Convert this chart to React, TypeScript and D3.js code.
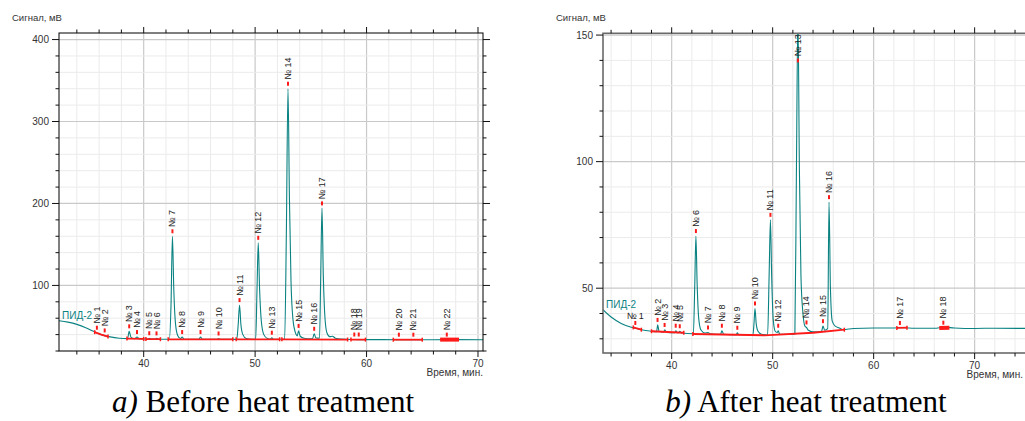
import React from 'react';
import * as d3 from 'd3';

type Pt = [number, number];
type Peak = [number, number, number]; // [№, time (min), top (mV)]

// ---- panel a) before heat treatment ----
const traceA: Pt[] = [
  [32.4, 57], [33.2, 55.2], [34.0, 52.5], [34.8, 48.5], [35.5, 44], [36.2, 40], [37.0, 37.2], [37.8, 35.6],
  [38.55, 35.1], [38.7, 44], [38.85, 37], [39.2, 35], [39.4, 37], [39.6, 34.8],
  [40.4, 34.6], [40.5, 35.6], [40.65, 34.5], [41.05, 34.5], [41.15, 35.4], [41.35, 34.4],
  [42.3, 34.3], [42.45, 75], [42.58, 160], [42.7, 96], [42.85, 54], [43.05, 39], [43.3, 35.2], [43.45, 37], [43.62, 34.4],
  [44.95, 34.3], [45.1, 37], [45.28, 34.3],
  [46.6, 34.2], [46.72, 35.3], [46.86, 34.2],
  [48.35, 34.2], [48.48, 52], [48.6, 76], [48.72, 53], [48.9, 40], [49.2, 35.3], [49.7, 34.3],
  [50.05, 34.3], [50.17, 95], [50.28, 152], [50.4, 96], [50.56, 56], [50.78, 40], [51.1, 35.3], [51.38, 34.6], [51.5, 36.2], [51.65, 34.4],
  [52.65, 34.3], [52.8, 160], [52.95, 340], [53.08, 205], [53.22, 105], [53.4, 58], [53.6, 43], [53.78, 38.5], [53.9, 44.5], [54.05, 38], [54.4, 35.5], [54.9, 34.8],
  [55.15, 35], [55.3, 41], [55.45, 36], [55.78, 35.5], [55.89, 115], [56.0, 194], [56.12, 112], [56.27, 60], [56.45, 42], [56.7, 37.5], [56.95, 38], [57.2, 35.6], [57.7, 34.5],
  [58.6, 34], [60, 33.9], [63, 33.8], [66, 33.8], [68, 33.9], [70.5, 33.8],
];

const peaksA: Peak[] = [
  [1, 35.8, 42.3], [2, 36.5, 39], [3, 38.7, 44], [4, 39.4, 37], [5, 40.5, 35.6], [6, 41.15, 35.4],
  [7, 42.58, 160], [8, 43.45, 37], [9, 45.1, 37], [10, 46.72, 35.3], [11, 48.6, 76], [12, 50.28, 152],
  [13, 51.5, 36.2], [14, 52.95, 340], [15, 53.9, 44.5], [16, 55.3, 41], [17, 56.0, 194], [18, 58.9, 34],
  [19, 59.3, 34], [20, 62.9, 33.8], [21, 64.2, 33.8], [22, 67.2, 33.9],
];

const baseA: Pt[][] = [
  [[35.6, 43], [36.2, 40], [36.8, 37.6]],
  [[38.5, 35.1], [40.0, 34.7]],
  [[40.2, 34.6], [41.5, 34.4]],
  [[42.2, 34.3], [48.0, 34.2]],
  [[48.3, 34.2], [52.2, 34.3]],
  [[52.4, 34.3], [58.3, 34.0]],
  [[58.6, 34.0], [59.9, 33.9]],
  [[62.4, 33.8], [65.0, 33.8]],
];
const fatBaseA: Pt[][] = [[[66.6, 33.9], [68.3, 33.9]]];

const yLabelsA = [100, 200, 300, 400];
const xLabelsA = [40, 50, 60, 70];

// ---- panel b) after heat treatment ----
const traceB: Pt[] = [
  [33.2, 41.5], [34, 38.6], [35, 36.1], [36, 34.6], [36.4, 34.2], [37, 33.6], [38, 33], [38.5, 32.8],
  [38.62, 35.5], [38.75, 33], [39.2, 32.6], [39.32, 33.6], [39.5, 32.5],
  [40.3, 32.4], [40.42, 33.2], [40.55, 32.4], [40.7, 32.4], [40.8, 33], [40.95, 32.3],
  [42.15, 32], [42.28, 50], [42.4, 70.6], [42.52, 52], [42.68, 38], [42.9, 33.5], [43.3, 32.3], [43.6, 32.5], [43.8, 32],
  [44.85, 31.8], [44.97, 33.2], [45.15, 31.8],
  [46.4, 31.6], [46.5, 32.4], [46.65, 31.6],
  [48.05, 31.6], [48.15, 36], [48.25, 42], [48.37, 36], [48.55, 33], [48.9, 31.8],
  [49.5, 31.5], [49.65, 55], [49.78, 77], [49.9, 55], [50.05, 38], [50.25, 33], [50.45, 32.5], [50.55, 33.2], [50.7, 31.8],
  [52.2, 31.8], [52.35, 95], [52.5, 158], [52.65, 96], [52.8, 55], [53.0, 40], [53.2, 35], [53.35, 34.5], [53.5, 33.5], [54.0, 32.8],
  [54.85, 33], [54.98, 35], [55.15, 33.4], [55.45, 34], [55.58, 84], [55.72, 50], [55.9, 37], [56.2, 35], [56.6, 34.3], [57.0, 33.6],
  [58, 34.1], [60, 34.3], [62, 34.3], [63, 34.4], [64, 34.2], [66, 34.2], [67, 34.6], [68, 34.3], [70, 34.1], [72, 34.2], [75.5, 34.1],
];

const peaksB: Peak[] = [
  [1, 36.4, 34.3], [2, 38.6, 35.5], [3, 39.3, 33.5], [4, 40.4, 33.2], [5, 40.8, 33], [6, 42.4, 70.6],
  [7, 43.6, 32.5], [8, 44.97, 33.2], [9, 46.5, 32.4], [10, 48.25, 42], [11, 49.78, 77], [12, 50.55, 33.2],
  [13, 52.5, 138], [14, 53.35, 34.5], [15, 54.98, 35], [16, 55.58, 84], [17, 62.6, 34.3], [18, 66.9, 34.4],
];

const baseB: Pt[][] = [
  [[36.2, 34.5], [37.0, 33.6]],
  [[38.0, 33], [41.2, 32.4]],
  [[42.1, 31.9], [49.2, 31.4], [54.0, 32.4], [57.1, 33.6]],
  [[62.3, 34.3], [63.3, 34.4]],
];
const fatBaseB: Pt[][] = [[[66.5, 34.3], [67.5, 34.4]]];

const yLabelsB = [50, 100, 150];
const xLabelsB = [40, 50, 60, 70];
const flatLabelsB = [1];

const SANS = '"Liberation Sans", Arial, sans-serif';
const TEAL = '#0b8282';
const RED = '#ff1a1a';

interface PanelProps {
  id: string;
  left: number; right: number; top: number; bottom: number;
  tDomain: [number, number]; vDomain: [number, number];
  vMajor: number[]; vStep: number; tMajor: number[];
  trace: Pt[]; peaks: Peak[]; base: Pt[][]; fatBase: Pt[][];
  flatLabels?: number[];
  frame: string; frameWidth: number;
  timeLabelEnd: number;
}

const Panel: React.FC<PanelProps> = (p) => {
  const x = d3.scaleLinear().domain(p.tDomain).range([p.left, p.right]);
  const y = d3.scaleLinear().domain(p.vDomain).range([p.bottom, p.top]);
  const line = d3.line<Pt>().x((d) => x(d[0])).y((d) => y(d[1])).curve(d3.curveMonotoneX);
  const straight = d3.line<Pt>().x((d) => x(d[0])).y((d) => y(d[1]));

  const tMinor = d3.range(Math.ceil(p.tDomain[0] / 2) * 2, p.tDomain[1], 2);
  const vMinor = d3.range(Math.ceil(p.vDomain[0] / p.vStep) * p.vStep, p.vDomain[1], p.vStep);
  const isMajorT = (t: number) => p.tMajor.includes(t);
  const isMajorV = (v: number) => p.vMajor.includes(v);
  const clip = `clip-${p.id}`;
  const start = p.trace[0];

  return (
    <g fontFamily={SANS}>
      <defs>
        <clipPath id={clip}>
          <rect x={p.left} y={p.top} width={p.right - p.left} height={p.bottom - p.top} />
        </clipPath>
      </defs>
      {/* grid */}
      {tMinor.map((t) => (
        <line key={`gx${t}`} x1={x(t)} x2={x(t)} y1={p.top} y2={p.bottom}
          stroke={isMajorT(t) ? '#c9c9c9' : '#ebebeb'} strokeWidth={isMajorT(t) ? 1.2 : 1} />
      ))}
      {vMinor.map((v) => (
        <line key={`gy${v}`} x1={p.left} x2={p.right} y1={y(v)} y2={y(v)}
          stroke={isMajorV(v) ? '#c9c9c9' : '#ebebeb'} strokeWidth={isMajorV(v) ? 1.2 : 1} />
      ))}

      <g clipPath={`url(#${clip})`}>
        <path d={line(p.trace) ?? ''} fill="none" stroke={TEAL} strokeWidth={1.1} />
        {p.base.map((s, i) => (
          <g key={`b${i}`}>
            <path d={straight(s) ?? ''} fill="none" stroke={RED} strokeWidth={1.8} />
            {[s[0], s[s.length - 1]].map((q, j) => (
              <line key={j} x1={x(q[0])} x2={x(q[0])} y1={y(q[1]) - 2} y2={y(q[1]) + 2} stroke={RED} strokeWidth={1.5} />
            ))}
          </g>
        ))}
        {p.fatBase.map((s, i) => (
          <path key={`f${i}`} d={straight(s) ?? ''} fill="none" stroke={RED} strokeWidth={4} />
        ))}
      </g>

      {/* peak markers and labels */}
      {p.peaks.map(([n, t, v]) => {
        const px = x(t);
        const py = Math.max(y(v), p.top + 8);
        const flat = p.flatLabels?.includes(n);
        return (
          <g key={`p${n}`}>
            <line x1={px} x2={px} y1={py - 3} y2={py - 7} stroke={RED} strokeWidth={2} />
            {flat ? (
              <text x={px} y={py - 9} fontSize={9} textAnchor="middle" fill="#222">{`№ ${n}`}</text>
            ) : (
              <text transform={`translate(${px + 3},${py - 9}) rotate(-90)`} fontSize={9} fill="#222">{`№ ${n}`}</text>
            )}
          </g>
        );
      })}

      <text x={p.left + 3} y={y(start[1]) - 2} fontSize={10} fill={TEAL}>ПИД-2</text>

      {/* frame */}
      <rect x={p.left} y={p.top} width={p.right - p.left} height={p.bottom - p.top}
        fill="none" stroke={p.frame} strokeWidth={p.frameWidth} />

      {/* ticks */}
      {tMinor.map((t) => {
        const len = isMajorT(t) ? 6 : 3.5;
        return (
          <g key={`tx${t}`} stroke="#111" strokeWidth={1}>
            <line x1={x(t)} x2={x(t)} y1={p.top} y2={p.top - len} />
            <line x1={x(t)} x2={x(t)} y1={p.bottom} y2={p.bottom + len} />
          </g>
        );
      })}
      {vMinor.map((v) => {
        const len = isMajorV(v) ? 7 : 3.5;
        return (
          <g key={`ty${v}`} stroke="#111" strokeWidth={1}>
            <line x1={p.left} x2={p.left - len} y1={y(v)} y2={y(v)} />
            <line x1={p.right} x2={p.right + len} y1={y(v)} y2={y(v)} />
          </g>
        );
      })}

      {p.vMajor.map((v) => (
        <text key={`ly${v}`} x={p.left - 10} y={y(v) + 3.5} fontSize={10} textAnchor="end" fill="#333">{v}</text>
      ))}
      {p.tMajor.map((t) => (
        <text key={`lx${t}`} x={x(t)} y={p.bottom + 15.5} fontSize={10} textAnchor="middle" fill="#333">{t}</text>
      ))}

      <text x={p.left - 47} y={20.5} fontSize={9.5} fill="#333">Сигнал, мВ</text>
      <text x={p.timeLabelEnd} y={p.bottom + 25} fontSize={10} textAnchor="end" fill="#333">Время, мин.</text>
    </g>
  );
};

export default function App() {
  return (
    <svg width={1025} height={421} style={{ position: 'absolute', left: 0, top: 0, background: '#fff' }}>
      <rect width={1025} height={421} fill="#fff" />
      <Panel id="a" left={59} right={483} top={33} bottom={351}
        tDomain={[32.4, 70.45]} vDomain={[20, 408]}
        vMajor={yLabelsA} vStep={20} tMajor={xLabelsA}
        trace={traceA} peaks={peaksA} base={baseA} fatBase={fatBaseA}
        frame="#000" frameWidth={1} timeLabelEnd={483} />
      <Panel id="b" left={603} right={1032} top={33.3} bottom={353}
        tDomain={[33.2, 75.68]} vDomain={[24.4, 150.7]}
        vMajor={yLabelsB} vStep={10} tMajor={xLabelsB}
        trace={traceB} peaks={peaksB} base={baseB} fatBase={fatBaseB} flatLabels={flatLabelsB}
        frame="#6a6a6a" frameWidth={1.6} timeLabelEnd={1023} />

      <g fontFamily='"Liberation Serif", "Times New Roman", serif' fontSize={31} fill="#000">
        <text x={263} y={412} textAnchor="middle">
          <tspan fontStyle="italic">a)</tspan> Before heat treatment
        </text>
        <text x={806} y={412} textAnchor="middle">
          <tspan fontStyle="italic">b)</tspan> After heat treatment
        </text>
      </g>
    </svg>
  );
}
